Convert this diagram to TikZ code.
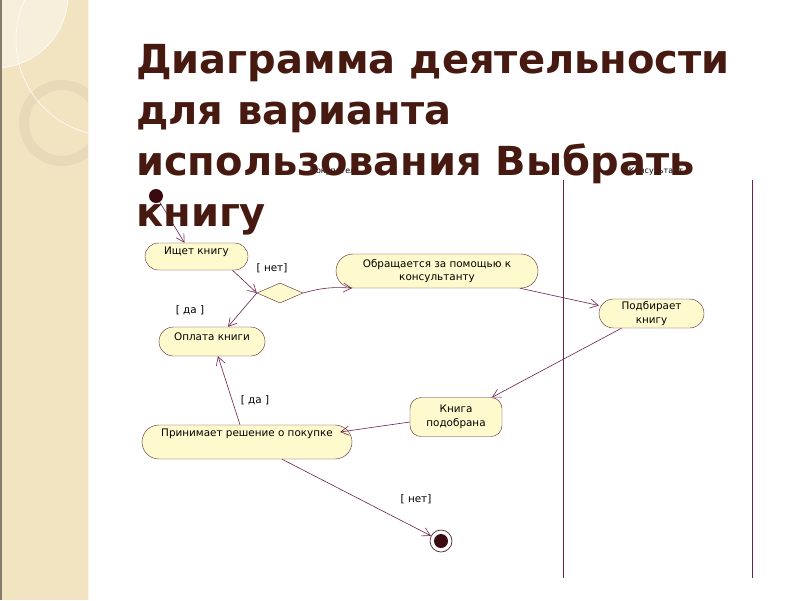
\documentclass[tikz,border=0pt]{standalone}
\usepackage{fontspec}
\setmainfont{DejaVu Sans}
\usetikzlibrary{shapes.geometric,shapes.misc,arrows.meta,positioning}
\definecolor{panelcol}{HTML}{F2E3C1}
\definecolor{panellight}{HTML}{F7EEDB}
\definecolor{ringcol}{HTML}{E8D9B8}
\definecolor{actfill}{HTML}{FFF9CE}
\definecolor{nodeedge}{HTML}{5A2530}
\definecolor{linecol}{HTML}{6B2250}
\definecolor{titlecol}{HTML}{461A10}
\definecolor{dotcol}{HTML}{3A0A10}
\tikzset{
	act/.style={rounded rectangle, draw=nodeedge, fill=actfill, minimum width=#1,
		inner sep=2pt, align=center, font=\fontsize{10.4}{13.5}\selectfont},
	actbox/.style={draw=nodeedge, fill=actfill, rounded corners=11pt, minimum width=#1,
		inner sep=2pt, align=center, font=\fontsize{10.4}{13.5}\selectfont},
	guard/.style={font=\fontsize{10.4}{12}\selectfont, inner sep=0pt},
	lanename/.style={font=\fontsize{8}{9}\selectfont, inner sep=0pt},
	flow/.style={draw=linecol, line width=0.6pt, -{Straight Barb[length=8pt,width=9pt]}},
	initial/.style={circle, fill=dotcol, minimum size=14pt, inner sep=0pt},
	final/.style={circle, draw=nodeedge, line width=0.7pt, fill=white, minimum size=22pt, inner sep=0pt,
		path picture={\fill[dotcol] (path picture bounding box.center) circle (7pt);}},
	choice/.style={diamond, draw=nodeedge, fill=actfill, aspect=2.3, minimum width=46pt,
		minimum height=20pt, inner sep=0pt}
}
\begin{document}
\begin{tikzpicture}[x=1pt,y=-1pt]
	\useasboundingbox[fill=white] (0,0) rectangle (800,600);
	% left panel
	\begin{scope}
		\clip (0,0) rectangle (88,600);
		\fill[panelcol] (0,0) rectangle (88,600);
		\fill[panellight] (-5,-5) circle (73);
		\draw[white, line width=0.6pt] (-5,-5) circle (73);
		\draw[ringcol, line width=10pt] (62,123) circle (38);
		\draw[white, line width=0.6pt] (112,40) circle (96);
	\end{scope}
	\fill[black!45!panelcol] (0,0) rectangle (2,600);
	\draw[white!60!panelcol, line width=1pt] (88,0) -- (88,600);

	% swimlanes
	\coordinate (lane1top) at (563,180);
	\coordinate (lane1bot) at (563,578);
	\coordinate (lane2top) at (752,180);
	\coordinate (lane2bot) at (752,578);
	\draw[linecol, line width=0.7pt] (lane1top) -- (lane1bot) (lane2top) -- (lane2bot);
	\node[lanename] (buyer) at (335,171) {Покупатель};
	\node[lanename] (consultant) at (656,171) {Консультант};

	% activities
	\node[initial] (start) at (156,196) {};
	\node[act=107pt, minimum height=27pt, text depth=11pt] (search) at (196.5,256.5) {Ищет книгу};
	\node[choice] (dec) at (280,293) {};
	\node[act=206pt, minimum height=34pt] (ask) at (437,271) {Обращается за помощью к\\консультанту};
	\node[act=110pt, minimum height=29pt, text depth=9pt] (pay) at (212,341.5) {Оплата книги};
	\node[act=109pt, minimum height=29pt] (pick) at (651.5,313.5) {Подбирает\\книгу};
	\node[actbox=92pt, minimum height=39pt] (found) at (456,417) {Книга\\подобрана};
	\node[act=214pt, minimum height=34pt, text depth=18pt] (decide) at (247,442) {Принимает решение о покупке};
	\node[final] (end) at (441,541) {};

	% guards
	\node[guard] (no1) at (272,268) {[ нет]};
	\node[guard] (yes1) at (190,310) {[ да ]};
	\node[guard] (yes2) at (255,400) {[ да ]};
	\node[guard] (no2) at (416,499) {[ нет]};

	\path[every edge/.style={flow}]
	(start) edge ([xshift=-12pt]search.north)
	([xshift=36pt]search.south) edge (dec.west)
	(dec.east) edge[bend left=10] ([xshift=-85pt]ask.south)
	(dec.west) edge ([xshift=16pt]pay.north)
	([xshift=83pt]ask.south) edge ([yshift=8pt]pick.west)
	([xshift=-30pt]pick.south) edge ([xshift=36pt]found.north)
	([yshift=-5pt]found.west) edge ([xshift=-12pt,yshift=10pt]decide.east)
	([xshift=-7pt]decide.north) edge ([xshift=6pt]pay.south)
	([xshift=35pt]decide.south) edge (end);

	% title
	\node[anchor=north west, inner sep=0pt, align=left, text=titlecol,
		font=\bfseries\fontsize{40}{51}\selectfont] (title) at (136,44)
		{Диаграмма деятельности\\для варианта\\использования Выбрать\\книгу};
\end{tikzpicture}
\end{document}
